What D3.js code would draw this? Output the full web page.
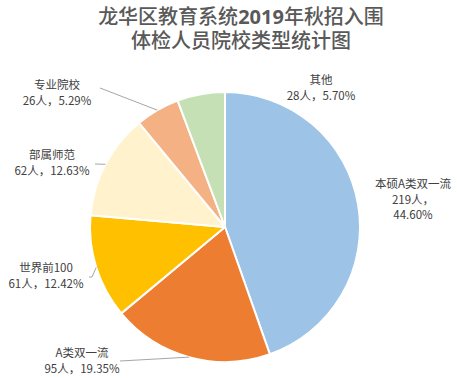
<!DOCTYPE html>
<html><head><meta charset="utf-8">
<script src="https://cdn.jsdelivr.net/npm/d3@7"></script>
<style>body{margin:0;background:#fff}svg{display:block}</style>
</head><body>
<script>
const categories = ["本硕A类双一流","A类双一流","世界前100","部属师范","专业院校","其他"];
const counts = [219,95,61,62,26,28];
const percents = ["44.60%","19.35%","12.42%","12.63%","5.29%","5.70%"];
const colors = ["#9DC3E6","#ED7D31","#FFC000","#FFF2CC","#F4B183","#C5E0B4"];
const titleParts = [["龙华区教育系统","2019","年秋招入围"],["体检人员院校类型统计图"]];

const W=457,H=378,cx=225,cy=227,R=135;
const svg=d3.select("body").append("svg").attr("width",W).attr("height",H);
svg.append("rect").attr("width",W).attr("height",H).attr("fill","#fff");

titleParts.forEach((parts,i)=>{
  const t=svg.append("text")
    .attr("x",241).attr("y",23.5+i*24)
    .attr("text-anchor","middle")
    .attr("font-family","'Noto Sans CJK SC', sans-serif")
    .attr("font-weight",500).attr("font-size",20).attr("fill","#595959");
  parts.forEach(p=>{
    t.append("tspan").attr("font-weight",/\d/.test(p)?"bold":500)
      .attr("font-family",/\d/.test(p)?"'Open Sans', sans-serif":null).text(p);
  });
});

const pie=d3.pie().sort(null).value(d=>d)(counts);
const arc=d3.arc().innerRadius(0).outerRadius(R);
const g=svg.append("g").attr("transform",`translate(${cx},${cy})`);
g.selectAll("path").data(pie).join("path")
  .attr("d",arc).attr("fill",(d,i)=>colors[i])
  .attr("stroke","#fff").attr("stroke-width",2).attr("stroke-linejoin","round");

const layout=[
  {x:413,y:188,lines:[categories[0],counts[0]+"人，",percents[0]],leader:null},
  {x:82,y:357,lines:[categories[1],counts[1]+"人，"+percents[1]],leader:[[120,361]]},
  {x:46,y:272,lines:[categories[2],counts[2]+"人，"+percents[2]],leader:[[89,277],[92,277]]},
  {x:52,y:159,lines:[categories[3],counts[3]+"人，"+percents[3]],leader:[[95,164]]},
  {x:57,y:89,lines:[categories[4],counts[4]+"人，"+percents[4]],leader:[[100,88]]},
  {x:321,y:84,lines:[categories[5],counts[5]+"人，"+percents[5]],leader:null}
];
const outer=d3.arc().innerRadius(R).outerRadius(R);
pie.forEach((d,i)=>{
  const L=layout[i];
  if(L.leader){
    const c=outer.centroid(d);
    const pts=[...L.leader,[c[0]+cx,c[1]+cy]];
    svg.append("path").attr("d",d3.line()(pts)).attr("fill","none")
      .attr("stroke","#a6a6a6").attr("stroke-width",1);
  }
  const t=svg.append("text").attr("text-anchor","middle")
    .attr("font-family","'Noto Sans CJK SC', sans-serif").attr("font-size",11.5).attr("fill","#404040");
  L.lines.forEach((s,k)=>t.append("tspan").attr("x",L.x).attr("y",L.y+k*15.5).text(s));
});
</script>
</body></html>
